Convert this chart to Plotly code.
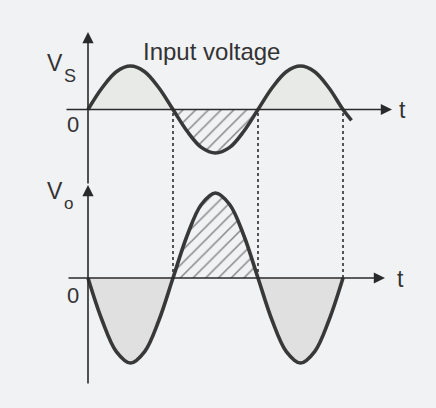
import plotly.graph_objects as go

# ---------------- data ----------------
phase_deg = [0, 30, 60, 90, 120, 150, 180, 210, 240, 270, 300, 330,
             360, 390, 420, 450, 480, 510, 540]
vs_values = [0, 0.5, 0.87, 1.0, 0.87, 0.5, 0, -0.5, -0.87, -1.0, -0.87, -0.5,
             0, 0.5, 0.87, 1.0, 0.87, 0.5, 0]
vs_tail_phase = [558]
vs_tail_value = [-0.25]
vo_values = [0, -1.0, -1.73, -2.0, -1.73, -1.0, 0, 1.0, 1.73, 2.0, 1.73, 1.0,
             0, -1.0, -1.73, -2.0, -1.73, -1.0, 0]
crossings_deg = [180, 360, 540]
lobe_bounds = [(0, 6), (6, 12), (12, 18)]   # index ranges of half cycles

# ---------------- geometry ----------------
W, H = 436, 408
X0_PX, PX_PER_DEG = 88, 170 / 360
TOP_ZERO_PX, TOP_SCALE = 109.5, 43.5
BOT_ZERO_PX, BOT_SCALE = 278, 42.5

def deg_of_px(px):
    return (px - X0_PX) / PX_PER_DEG

def ybot_of_px(py):
    return (BOT_ZERO_PX - py) / BOT_SCALE

def ytop_of_px(py):
    return (TOP_ZERO_PX - py) / TOP_SCALE

x_range = [deg_of_px(0), deg_of_px(W)]
y_range = [ybot_of_px(H), ybot_of_px(0)]
y2_range = [ytop_of_px(H), ytop_of_px(0)]

BG = "#f1f2f4"
CURVE = "#383838"
INK = "#2a2a2a"
FONT = "Liberation Sans, Arial, sans-serif"

fig = go.Figure()

vs_x = phase_deg + vs_tail_phase
vs_y = vs_values + vs_tail_value

HATCH = dict(shape="/", fgcolor="#1e1e1e", bgcolor="rgba(0,0,0,0)", size=9, solidity=0.17)

# ---- fills ----
for k, (a, b) in enumerate(lobe_bounds):
    xs = phase_deg[a:b + 1]
    # top panel (Vs)
    ys = vs_values[a:b + 1]
    if k == 1:
        fig.add_trace(go.Scatter(x=xs, y=ys, yaxis="y2", mode="lines",
                                 line=dict(width=0, shape="spline"), fill="tozeroy",
                                 fillpattern=HATCH, hoverinfo="skip", showlegend=False))
    else:
        fig.add_trace(go.Scatter(x=xs, y=ys, yaxis="y2", mode="lines",
                                 line=dict(width=0, shape="spline"), fill="tozeroy",
                                 fillcolor="#e8eae8", hoverinfo="skip", showlegend=False))
    # bottom panel (Vo)
    ys = vo_values[a:b + 1]
    if k == 1:
        fig.add_trace(go.Scatter(x=xs, y=ys, yaxis="y", mode="lines",
                                 line=dict(width=0, shape="spline"), fill="tozeroy",
                                 fillpattern=HATCH, hoverinfo="skip", showlegend=False))
    else:
        fig.add_trace(go.Scatter(x=xs, y=ys, yaxis="y", mode="lines",
                                 line=dict(width=0, shape="spline"), fill="tozeroy",
                                 fillcolor="#e0e0e0", hoverinfo="skip", showlegend=False))

# ---- curves ----
fig.add_trace(go.Scatter(x=vs_x, y=vs_y, yaxis="y2", mode="lines",
                         line=dict(color=CURVE, width=3.6, shape="spline"),
                         hoverinfo="skip", showlegend=False))
fig.add_trace(go.Scatter(x=phase_deg, y=vo_values, yaxis="y", mode="lines",
                         line=dict(color=CURVE, width=3.6, shape="spline"),
                         hoverinfo="skip", showlegend=False))

# ---- dotted guides ----
for c in crossings_deg:
    fig.add_shape(type="line", xref="x", yref="y", x0=c, x1=c,
                  y0=0, y1=ybot_of_px(TOP_ZERO_PX),
                  line=dict(color="#3a3a3a", width=1.7, dash="dot"))

# ---- axes with arrows ----
def arrow(x, y, ax, ay, yref):
    fig.add_annotation(x=x, y=y, ax=ax, ay=ay, xref="x", yref=yref,
                       axref="x", ayref=yref, text="", showarrow=True,
                       arrowhead=2, arrowsize=1.4, arrowwidth=1.6,
                       arrowcolor=INK, standoff=0, startstandoff=0)

arrow(deg_of_px(392), 0, deg_of_px(65), 0, "y2")
arrow(deg_of_px(385), 0, deg_of_px(67), 0, "y")
arrow(0, ybot_of_px(185), 0, ybot_of_px(385), "y")
arrow(0, ybot_of_px(32), 0, ybot_of_px(185), "y")

# ---- text ----
def label(text, px, py, size, xanchor="center"):
    fig.add_annotation(x=px / W, y=1 - py / H, xref="paper", yref="paper",
                       text=text, showarrow=False, xanchor=xanchor, yanchor="middle",
                       font=dict(family=FONT, size=size, color="#333333"))

label("Input voltage", 211, 51, 24)
label("V", 55, 63, 23)
label("S", 70, 76, 18)
label("0", 73, 124, 22)
label("t", 402, 110, 23)
label("V", 55, 191, 23)
label("o", 68, 203, 17)
label("0", 73, 295, 22)
label("t", 400, 279, 23)

fig.update_layout(
    width=W, height=H, margin=dict(l=0, r=0, t=0, b=0),
    paper_bgcolor=BG, plot_bgcolor=BG,
    xaxis=dict(range=x_range, visible=False, fixedrange=True),
    yaxis=dict(range=y_range, visible=False, fixedrange=True),
    yaxis2=dict(range=y2_range, visible=False, overlaying="y", fixedrange=True),
    showlegend=False,
)

fig.write_html("out.html", config={"displayModeBar": False},
               post_script="document.body.style.margin='0';"
                           "document.body.style.background='%s';" % BG)
